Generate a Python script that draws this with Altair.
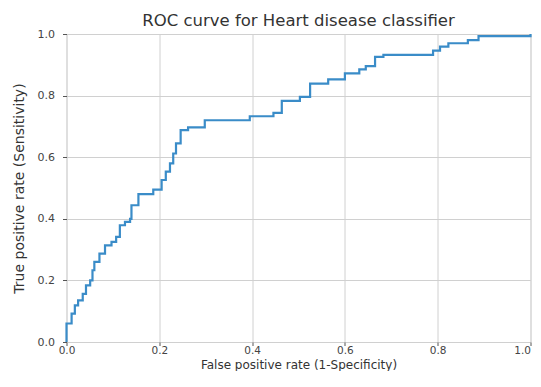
import altair as alt
import pandas as pd

fpr = [0.0, 0.0, 0.011, 0.018, 0.025, 0.035, 0.042, 0.051, 0.056, 0.06, 0.071,
       0.083, 0.097, 0.107, 0.115, 0.126, 0.137, 0.14, 0.155, 0.187, 0.205,
       0.214, 0.223, 0.23, 0.236, 0.246, 0.262, 0.298, 0.395, 0.446, 0.464,
       0.503, 0.525, 0.564, 0.6, 0.631, 0.645, 0.665, 0.683, 0.79, 0.805,
       0.823, 0.865, 0.888, 1.0, 1.0]
tpr = [0.0, 0.06, 0.092, 0.119, 0.135, 0.156, 0.184, 0.2, 0.233, 0.26, 0.287,
       0.314, 0.325, 0.341, 0.379, 0.39, 0.4, 0.444, 0.48, 0.495, 0.526,
       0.553, 0.58, 0.612, 0.645, 0.688, 0.697, 0.72, 0.733, 0.744, 0.783,
       0.796, 0.839, 0.853, 0.872, 0.885, 0.896, 0.926, 0.932, 0.946, 0.959,
       0.97, 0.98, 0.993, 0.993, 1.0]
ticks = [0.0, 0.2, 0.4, 0.6, 0.8, 1.0]

df = pd.DataFrame({"fpr": fpr, "tpr": tpr, "order": list(range(len(fpr)))})

axis_common = dict(
    values=ticks, format=".1f", grid=True, gridColor="#d0d0d0", gridWidth=1,
    domain=False, tickColor="#555555", tickWidth=1,
    labelFont="DejaVu Sans", labelColor="#444444",
    labelFlush=False, labelOverlap=False,
    titleFont="DejaVu Sans", titleFontWeight="normal",
    titleColor="#333333",
)

chart = alt.Chart(df).mark_line(
    interpolate="step-after", color="#3a8cc8", strokeWidth=2.2
).encode(
    x=alt.X("fpr:Q", scale=alt.Scale(domain=[0, 1], nice=False),
            axis=alt.Axis(title="False positive rate (1-Specificity)",
                          tickSize=3.5, labelFontSize=10.5,
                          titleFontSize=12, labelPadding=0, titlePadding=3,
                          labelAlign=alt.condition("datum.value >= 1",
                                                   alt.value("right"),
                                                   alt.value("center")),
                          **axis_common)),
    y=alt.Y("tpr:Q", scale=alt.Scale(domain=[0, 1], nice=False),
            axis=alt.Axis(title="True positive rate (Sensitivity)",
                          tickSize=4, labelFontSize=11,
                          titleFontSize=14, labelPadding=8, titlePadding=11,
                          **axis_common)),
    order="order:Q",
).properties(
    width=464, height=308,
    autosize=alt.AutoSizeParams(type="none"),
    padding={"left": 58.5, "top": 26, "right": 2, "bottom": 29},
    title=alt.TitleParams("ROC curve for Heart disease classifier",
                          font="DejaVu Sans", fontSize=16.5, fontWeight="normal",
                          color="#333333", offset=-1, anchor="middle"),
).configure_view(
    stroke="#555555", strokeWidth=1.2
).configure(background="white")

chart.save("out.html", embed_options={"renderer": "svg", "actions": False})
